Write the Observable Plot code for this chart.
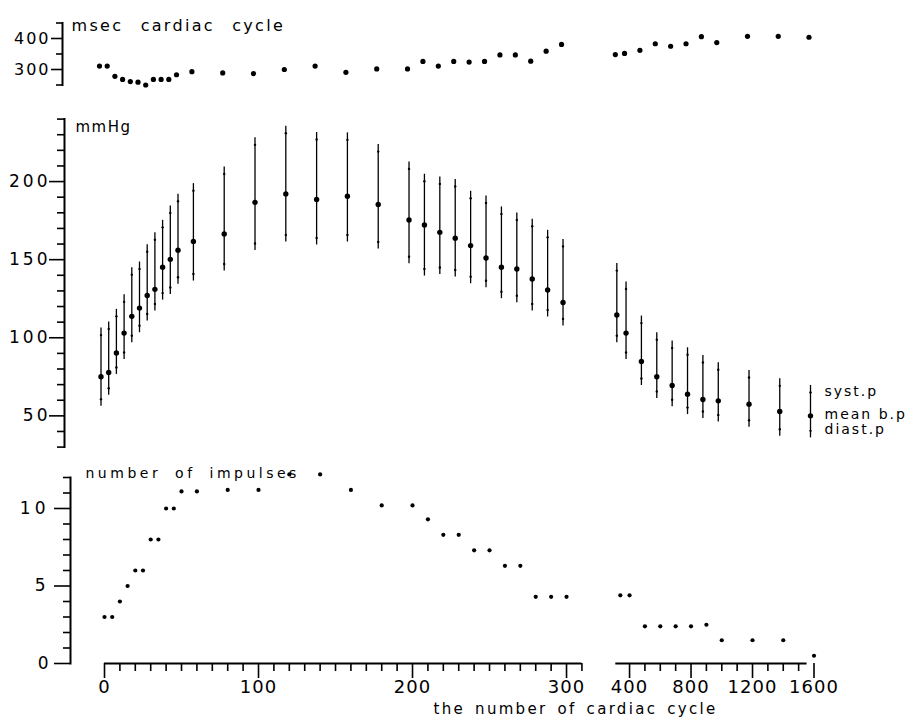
<!DOCTYPE html>
<html>
<head>
<meta charset="utf-8">
<script src="https://cdn.jsdelivr.net/npm/d3@7"></script>
<script src="https://cdn.jsdelivr.net/npm/@observablehq/plot@0.6"></script>
<style>
  body { margin: 0; background: #fff; }
  #chart { position: relative; width: 909px; height: 723px; overflow: hidden; background: #fff; font-family: "DejaVu Sans", sans-serif; }
  #chart .panel { position: absolute; left: 0; width: 909px; }
  #chart svg { display: block; overflow: visible; }
</style>
</head>
<body>
<div id="chart">
  <div class="panel" id="p1" style="top:0px"></div>
  <div class="panel" id="p2" style="top:100px"></div>
  <div class="panel" id="p3" style="top:455px"></div>
</div>
<script>
// ---------- data ----------
const cycles = [0,5,10,15,20,25,30,35,40,45,50,60,80,100,120,140,160,180,200,210,220,230,240,250,260,270,280,290,300,340,400,500,600,700,800,900,1000,1200,1400,1600];
const msec = [311,311,278,268,261,259,250,268,268,268,283,293,289,287,300,311,291,302,302,326,311,326,324,326,347,347,327,359,381,348,352,362,383,375,383,406,387,407,407,404];
const syst = [101.7,105.6,113.7,123,140.4,144,155.1,162.8,170.7,179.9,187.4,194.2,204.9,223.5,231,226.9,226.7,219.2,208.1,200.2,198.5,196.8,189.3,186.3,179.3,175.4,171.4,164.3,158.5,143,131.2,109.4,98.7,93.4,89.1,84.2,79.5,74.6,69.2,65];
const meanBP = [75,77.8,90.2,103,113.7,119,127.1,131,145.1,150.2,156,161.7,166.5,186.7,192.1,188.5,190.6,185.3,175.4,172.2,167.5,163.7,159,151.1,145.1,144,137.6,130.6,122.6,114.6,103,84.8,75,69.4,63.9,60.5,59.6,57.5,52.8,50];
const diast = [60.7,67.7,81,90.6,101.3,107.7,115.2,121.6,128.6,132.2,138.7,140.8,147.2,160.4,165.8,163.9,165.8,161.3,151.9,144,145,143.4,139.1,136.5,129.5,126.9,121.6,117.8,112,101.3,90.6,73.9,65.6,60.3,55.3,52.8,50.6,47.2,41.5,40.4];
const impulses = [3,3,4,5,6,6,8,8,10,10,11.1,11.1,11.2,11.2,12.2,12.2,11.2,10.2,10.2,9.3,8.3,8.3,7.3,7.3,6.3,6.3,4.3,4.3,4.3,4.4,4.4,2.4,2.4,2.4,2.4,2.5,1.5,1.5,1.5,0.5];

// ---------- axes / labels ----------
const msecTicks = [300, 400];
const msecMinor = [250, 350, 450];
const mmHgTicks = [50, 100, 150, 200];
const mmHgMinor = [30,40,60,70,80,90,110,120,130,140,160,170,180,190,210,220,230,240];
const impTicks = [0, 5, 10];
const impMinor = [1,2,3,4,6,7,8,9,11,12];
const xTicks = [0, 100, 200, 300, 400, 800, 1200, 1600];
const xMinor = [10,20,30,40,50,60,70,80,90,110,120,130,140,150,160,170,180,190,210,220,230,240,250,260,270,280,290,310,500,600,700,900,1000,1100,1300,1400,1500];
const xAxisSpans = [[0, 310], [310.6, 1555]];
const legendLabels = ["syst.p", "mean b.p", "diast.p"];
const titleMsec = "msec cardiac cycle";
const titleMmHg = "mmHg";
const titleImp = "number of impulses";
const titleX = "the number of cardiac cycle";

const rows = cycles.map((c, i) => ({cycle: c, msec: msec[i], syst: syst[i], mean: meanBP[i], diast: diast[i], imp: impulses[i]}));
const last = rows[rows.length - 1];
const legendRows = [
  {label: legendLabels[0], cycle: last.cycle, v: last.syst},
  {label: legendLabels[1], cycle: last.cycle, v: last.mean},
  {label: legendLabels[2], cycle: last.cycle, v: last.diast}
];

// broken x axis: 0–310 on one scale, then a compressed 400–1600 segment
const xDomain = [0, 310.5, 310.6, 1600];
const xPx = [104, 582.2, 615.3, 813.5];
const xScale = (off) => ({type: "linear", domain: xDomain, range: xPx.map(p => p + off)});
const fmt = d => String(d);
const baseStyle = {background: "transparent", overflow: "visible", fontFamily: "DejaVu Sans, sans-serif", color: "black"};
const W = 909;

// y tick labels drawn as text at the left frame edge
const yLabels = (ticks, dx, fontSize) =>
  Plot.text(ticks, {y: d => d, text: d => String(d), frameAnchor: "left", dx: -dx, textAnchor: "end", fontSize});

// ---------- top panel: cycle length ----------
const p1 = Plot.plot({
  width: W, height: 100, marginLeft: 62, marginTop: 22.5, marginBottom: 15.5, marginRight: 0,
  style: baseStyle,
  x: {...xScale(-5), axis: null},
  y: {domain: [250, 450]},
  marks: [
    Plot.frame({anchor: "left", strokeWidth: 2}),
    Plot.axisY(msecMinor, {tickSize: 6, tickFormat: () => "", label: null, strokeWidth: 1.6}),
    Plot.axisY(msecTicks, {tickSize: 11, tickFormat: () => "", label: null, strokeWidth: 1.6}),
    yLabels(msecTicks, 12, 16),
    Plot.text([titleMsec], {text: d => d, frameAnchor: "top-left", dx: 9, dy: -3, textAnchor: "start", fontSize: 16}),
    Plot.dot(rows, {x: "cycle", y: "msec", r: 2.6, fill: "black"})
  ]
});

// ---------- middle panel: blood pressure ----------
const p2 = Plot.plot({
  width: W, height: 355, marginLeft: 64, marginTop: 18.6, marginBottom: 8.4, marginRight: 0,
  style: baseStyle,
  x: {...xScale(-3.5), axis: null},
  y: {domain: [30, 240]},
  marks: [
    Plot.frame({anchor: "left", strokeWidth: 2}),
    Plot.axisY(mmHgMinor, {tickSize: 7, tickFormat: () => "", label: null, strokeWidth: 1.6}),
    Plot.axisY(mmHgTicks, {tickSize: 15, tickFormat: () => "", label: null, strokeWidth: 1.6}),
    yLabels(mmHgTicks, 14, 17),
    Plot.text([titleMmHg], {text: d => d, frameAnchor: "top-left", dx: 11, dy: 2, textAnchor: "start", fontSize: 15}),
    Plot.ruleX(rows, {x: "cycle", y1: "mean", y2: "syst", insetBottom: 7, strokeWidth: 1.3}),
    Plot.ruleX(rows, {x: "cycle", y1: "diast", y2: "mean", insetTop: 7, strokeWidth: 1.3}),
    Plot.dot(rows, {x: "cycle", y: "syst", r: 1.2, fill: "black"}),
    Plot.dot(rows, {x: "cycle", y: "diast", r: 1.2, fill: "black"}),
    Plot.dot(rows, {x: "cycle", y: "mean", r: 2.7, fill: "black"}),
    Plot.text(legendRows, {x: "cycle", y: "v", text: "label", dx: 14, dy: -1, textAnchor: "start", fontSize: 14})
  ]
});

// ---------- bottom panel: number of impulses ----------
const p3 = Plot.plot({
  width: W, height: 268, marginLeft: 70, marginTop: 22, marginBottom: 60, marginRight: 0,
  style: baseStyle,
  x: xScale(0),
  y: {domain: [0, 12]},
  marks: [
    Plot.frame({anchor: "left", strokeWidth: 2}),
    Plot.axisY(impMinor, {tickSize: 7, tickFormat: () => "", label: null, strokeWidth: 1.6}),
    Plot.axisY(impTicks, {tickSize: 16, tickFormat: () => "", label: null, strokeWidth: 1.6}),
    yLabels(impTicks, 21, 17),
    Plot.ruleY(xAxisSpans, {x1: d => d[0], x2: d => d[1], y: () => 0, strokeWidth: 2}),
    Plot.axisX(xMinor, {tickSize: 8, tickFormat: () => "", label: null, strokeWidth: 1.6}),
    Plot.axisX(xTicks, {tickSize: 15, tickPadding: 2, fontSize: 18, tickFormat: fmt, label: null, strokeWidth: 1.6}),
    Plot.text([titleImp], {text: d => d, frameAnchor: "top-left", dx: 15, dy: -9, textAnchor: "start", fontSize: 14}),
    Plot.text([titleX], {text: d => d, frameAnchor: "bottom-left", dx: 363, dy: 50, textAnchor: "start", fontSize: 15}),
    Plot.dot(rows, {x: "cycle", y: "imp", r: 2.1, fill: "black"})
  ]
});

// letter spacing of the typewriter-like lettering
function spaceText(svg, strings, ls, ws) {
  const set = new Set(strings.map(String));
  d3.select(svg).selectAll("text").filter(function() { return set.has(this.textContent); })
    .style("letter-spacing", ls + "px").style("word-spacing", (ws || 0) + "px");
}
spaceText(p1, msecTicks, 2);
spaceText(p1, [titleMsec], 2.3, 10);
spaceText(p2, mmHgTicks, 3);
spaceText(p2, [titleMmHg], 1.5);
spaceText(p2, legendLabels, 2);
spaceText(p3, impTicks, 4);
spaceText(p3, xTicks, 1);
spaceText(p3, [titleImp], 3.5, 6);
spaceText(p3, [titleX], 2.3, 3);

document.getElementById("p1").appendChild(p1);
document.getElementById("p2").appendChild(p2);
document.getElementById("p3").appendChild(p3);
</script>
</body>
</html>
